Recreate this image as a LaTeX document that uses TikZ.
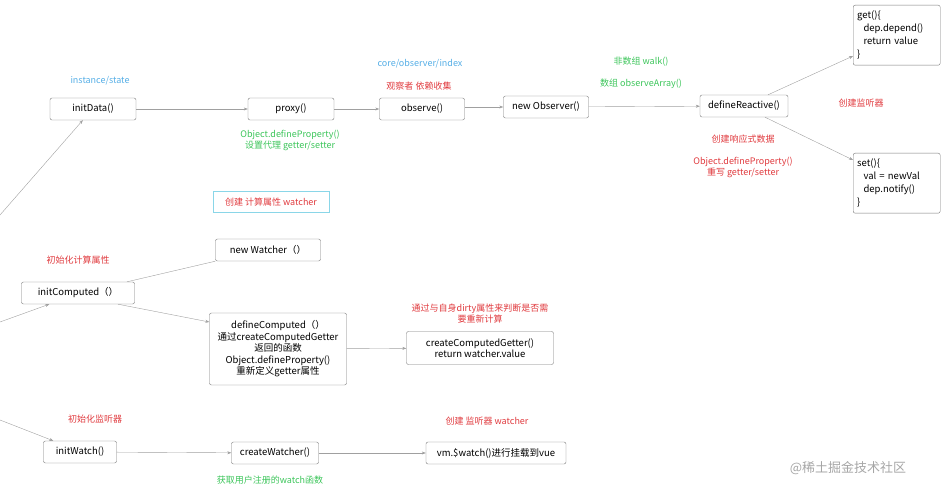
\documentclass[tikz,border=0pt]{standalone}
\usepackage{fontspec}
\setmainfont{Noto Sans CJK SC}
\usepackage{xcolor}
\definecolor{noteRed}{HTML}{E03A3E}
\definecolor{noteGreen}{HTML}{3CC55A}
\definecolor{noteBlue}{HTML}{55AEE6}
\definecolor{boxEdge}{HTML}{7A7A7A}
\definecolor{lineGray}{HTML}{A0A0A0}
\definecolor{cyanEdge}{HTML}{8AD6E8}
\usetikzlibrary{arrows.meta}
\tikzstyle{fn} = [draw=boxEdge, rounded corners=2pt, fill=white, minimum height=22pt, inner sep=2pt, font=\fontsize{9.5}{11.5}\selectfont]
\tikzset{red note/.style={text=noteRed, font=\fontsize{9}{11}\selectfont, align=center},
    green note/.style={text=noteGreen, font=\fontsize{9}{11}\selectfont, align=center},
    blue note/.style={text=noteBlue, font=\fontsize{9}{11}\selectfont},
    code/.style={fn, text width=79pt, inner sep=4pt, minimum height=60pt, align=left, anchor=north west, font=\fontsize{9.5}{13}\selectfont},
    flow/.style={draw=lineGray, -{Stealth[length=4pt,width=3pt]}}}
\begin{document}
\begin{tikzpicture}[x=1pt,y=-1pt]
    \useasboundingbox (0,0) rectangle (950,497);
    % data chain
    \node[blue note] (stateLbl) at (100,81) {instance/state};
    \node[fn, minimum width=86pt] (initData) at (93,109) {initData()};
    \node[fn, minimum width=86pt] (proxy) at (291,109) {proxy()};
    \node[green note] (proxyNote) at (290,140) {Object.defineProperty()\\设置代理 getter/setter};
    \node[blue note] (indexLbl) at (420,64) {core/observer/index};
    \node[red note] (observeNote) at (419,86) {观察者 依赖收集};
    \node[fn, minimum width=85pt] (observe) at (422,109) {observe()};
    \node[fn, minimum width=85pt] (newObserver) at (546,107) {new Observer()};
    \node[green note] (walkNote) at (641,62) {非数组 walk()};
    \node[green note] (arrayNote) at (641,84) {数组 observeArray()};
    \node[fn, minimum width=88pt] (defineReactive) at (744,106) {defineReactive()};
    \node[red note] (reactiveNote) at (743,139) {创建响应式数据};
    \node[red note] (rewriteNote) at (743,167) {Object.defineProperty()\\重写 getter/setter};
    \node[code] (getter) at (853,5)
        {get()\{\\\ \ dep.depend()\\\ \ return value\\\}};
    \node[red note] (listenNote) at (861,103) {创建监听器};
    \node[code] (setter) at (853,153)
        {set()\{\\\ \ val = newVal\\\ \ dep.notify()\\\}};
    %
    \draw[flow] (initData) -- (proxy);
    \draw[flow] (proxy) -- (observe);
    \draw[flow] (observe.east |- newObserver) -- (newObserver);
    \draw[flow] (newObserver) -- (defineReactive);
    \draw[flow] (defineReactive.north) ++(24,0) -- (getter.west |- 0,56);
    \draw[flow] (defineReactive.south) ++(21,0) -- (setter.west |- 0,160);
    % computed chain
    \node[draw=cyanEdge, text=noteRed, font=\fontsize{9}{11}\selectfont, minimum width=116pt, minimum height=21pt] (computedTag) at (271,202) {创建 计算属性 watcher};
    \node[red note] (computedNote) at (78,260) {初始化计算属性};
    \node[fn, minimum width=105pt] (newWatcher) at (268,250) {new Watcher（）};
    \node[fn, minimum width=113pt] (initComputed) at (78,293) {initComputed（）};
    \node[fn, minimum width=137pt, minimum height=72pt, align=center] (defineComputed) at (278,349)
        {defineComputed（）\\通过createComputedGetter\\返回的函数\\Object.defineProperty()\\重新定义getter属性};
    \node[red note] (dirtyNote) at (480,314) {通过与自身dirty属性来判断是否需\\要重新计算};
    \node[fn, minimum width=147pt, minimum height=33pt, align=center] (computedGetter) at (480,348)
        {createComputedGetter()\\return watcher.value};
    %
    \draw[draw=lineGray] (initComputed.north) ++(49,0) -- (newWatcher.south west);
    \draw[flow] (initComputed.south) ++(40,0) -- (defineComputed.west |- 0,322);
    \draw[flow] (defineComputed) -- (computedGetter);
    % watch chain
    \node[red note] (watchNote) at (95,419) {初始化监听器};
    \node[fn, minimum width=73pt] (initWatch) at (80,452) {initWatch()};
    \node[fn, minimum width=87pt] (createWatcher) at (275,453) {createWatcher()};
    \node[green note] (userNote) at (270,480) {获取用户注册的watch函数};
    \node[red note] (watcherNote) at (487,421) {创建 监听器 watcher};
    \node[fn, minimum width=140pt] (mountWatch) at (496,453) {vm.\$watch()进行挂载到vue};
    %
    \draw[flow] (initWatch) -- (createWatcher);
    \draw[flow] (createWatcher) -- (mountWatch);
    % entries from the left edge
    \coordinate (inData) at (0,215);
    \coordinate (inComputed) at (0,322);
    \coordinate (inWatch) at (0,420);
    \draw[flow] (inData) -- ([xshift=33pt]initData.south west);
    \draw[flow] (inComputed) -- ([xshift=28pt]initComputed.south west);
    \draw[flow] (inWatch) -- ([xshift=10pt]initWatch.north west);
    % watermark
    \node[text=gray!70, font=\fontsize{13}{15}\selectfont] (mark) at (848,468) {@稀土掘金技术社区};
\end{tikzpicture}
\end{document}
